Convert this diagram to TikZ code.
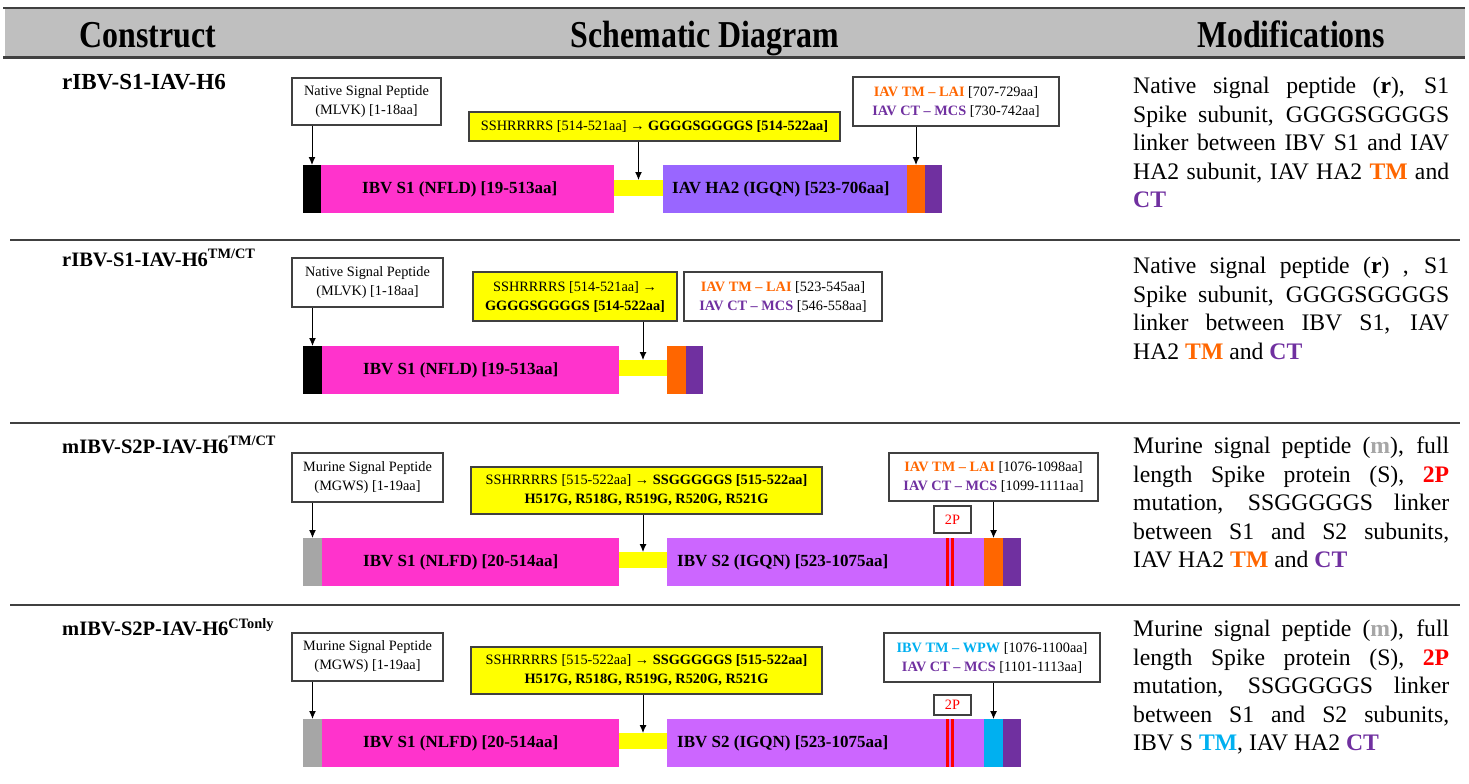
\documentclass[tikz,border=0pt]{standalone}
\usepackage{fontspec}
\setmainfont{Liberation Serif}
\usepackage{graphicx}
\usetikzlibrary{arrows.meta}

\definecolor{s1pink}{HTML}{FF33CC}
\definecolor{ha2purple}{HTML}{9966FF}
\definecolor{s2purple}{HTML}{CC66FF}
\definecolor{tmorange}{HTML}{FF6600}
\definecolor{ctpurple}{HTML}{7030A0}
\definecolor{tmcyan}{HTML}{00B0F0}
\definecolor{sigray}{HTML}{A6A6A6}
\definecolor{hdrgray}{HTML}{BFBFBF}
\definecolor{linegray}{HTML}{404040}
\definecolor{linkyellow}{HTML}{FFFF00}

\newcommand{\hd}[1]{\scalebox{0.84}[1]{#1}}
\newcommand{\tmo}[1]{{\color{tmorange}\textbf{#1}}}
\newcommand{\ctp}[1]{{\color{ctpurple}\textbf{#1}}}

\begin{document}
\begin{tikzpicture}[x=1pt,y=-1pt]
    \tikzstyle{seg}=[inner sep=0,outer sep=0,anchor=north west,minimum height=48pt]
    \tikzstyle{lnk}=[seg,fill=linkyellow,minimum height=16pt]
    \tikzstyle{box}=[draw=linegray,line width=1.2pt,fill=white,inner sep=0,align=center,font=\fontsize{14.3}{19}\selectfont]
    \tikzstyle{ybox}=[box,fill=linkyellow]
    \tikzstyle{barlab}=[anchor=west,inner sep=0,font=\bfseries\fontsize{17}{17}\selectfont]
    \tikzstyle{cname}=[anchor=west,inner sep=0,font=\bfseries\fontsize{23}{25}\selectfont]
    \tikzstyle{cnamesup}=[cname,font=\bfseries\fontsize{20.5}{23}\selectfont]
    \tikzstyle{mods}=[anchor=north west,inner sep=0,text width=316pt,align=justify,font=\fontsize{23.7}{28.5}\selectfont]
    \tikzstyle{hdr}=[inner sep=0,anchor=base,font=\bfseries\fontsize{38}{40}\selectfont]
    \tikzstyle{arr}=[-{Latex[length=8pt,width=7pt]},line width=1pt]
    \tikzstyle{rule}=[draw=linegray,line width=2pt]
    \tikzstyle{twop}=[draw=red,line width=2.5pt]
    \useasboundingbox (0,0) rectangle (1469,784);

    % header
    \fill[hdrgray] (5,8) rectangle (1465,58);
    \draw[rule,line width=2.5pt] (3,8) -- (1465,8);
    \draw[rule,line width=3pt] (3,58) -- (1465,58);
    \node[hdr] (hconstr) at (148,48) {\hd{Construct}};
    \node[hdr] (hschem) at (705,48) {\hd{Schematic Diagram}};
    \node[hdr] (hmods) at (1291,48) {\hd{Modifications}};
    \draw[rule] (10,240) -- (1460,240);
    \draw[rule] (10,423) -- (1460,423);
    \draw[rule] (10,605) -- (1460,605);

    % row 1
    \node[cname] (name1) at (62,82) {rIBV-S1-IAV-H6};
    \node[seg,fill=black,minimum width=18pt] (blk1) at (303,165) {};
    \node[seg,fill=s1pink,minimum width=293pt] (s1a1) at (321,165) {};
    \node[lnk,minimum width=49pt] (lnk1) at (614,180) {};
    \node[seg,fill=ha2purple,minimum width=244pt] (ha2a1) at (663,165) {};
    \node[seg,fill=tmorange,minimum width=18pt] (tm1) at (907,165) {};
    \node[seg,fill=ctpurple,minimum width=17pt] (ct1) at (925,165) {};
    \node[barlab] (s1lab1) at ([xshift=41pt]s1a1.west) {IBV S1 (NFLD) [19-513aa]};
    \node[barlab] (ha2lab1) at ([xshift=9pt]ha2a1.west) {IAV HA2 (IGQN) [523-706aa]};
    \node[box,minimum width=149pt,minimum height=47pt] (sig1) at (366.5,101.5) {Native Signal Peptide\\(MLVK) [1-18aa]};
    \node[ybox,minimum width=371pt,minimum height=29pt] (yel1) at (654.5,126.5) {SSHRRRRS [514-521aa] → \textbf{GGGGSGGGGS [514-522aa]}};
    \node[box,minimum width=206pt,minimum height=49pt] (tmb1) at (956,101.5) {\tmo{IAV TM – LAI} [707-729aa]\\\ctp{IAV CT – MCS} [730-742aa]};
    \draw[arr] (blk1.north |- sig1.south) -- (blk1.north);
    \draw[arr] (lnk1.north |- yel1.south) -- (lnk1.north);
    \draw[arr] (tm1.north |- tmb1.south) -- (tm1.north);
    \node[mods] (mod1) at (1133,77) {Native signal peptide (\textbf{r}), S1\linebreak Spike subunit, GGGGSGGGGS\linebreak linker between IBV S1 and IAV\linebreak HA2 subunit, IAV HA2 \tmo{TM} and\linebreak \ctp{CT}};

    % row 2
    \node[cnamesup] (name2) at (62,258) {rIBV-S1-IAV-H6\textsuperscript{TM/CT}};
    \node[seg,fill=black,minimum width=19pt] (blk2) at (303,346) {};
    \node[seg,fill=s1pink,minimum width=297pt] (s1a2) at (322,346) {};
    \node[lnk,minimum width=48pt] (lnk2) at (619,360) {};
    \node[seg,fill=tmorange,minimum width=19pt] (tm2) at (667,346) {};
    \node[seg,fill=ctpurple,minimum width=17pt] (ct2) at (686,346) {};
    \node[barlab] (s1lab2) at ([xshift=41pt]s1a2.west) {IBV S1 (NFLD) [19-513aa]};
    \node[box,minimum width=151pt,minimum height=49pt] (sig2) at (367.5,282.5) {Native Signal Peptide\\(MLVK) [1-18aa]};
    \node[ybox,minimum width=204pt,minimum height=49pt] (yel2) at (575,296.5) {SSHRRRRS [514-521aa] →\\\textbf{GGGGSGGGGS [514-522aa]}};
    \node[box,minimum width=198pt,minimum height=49pt] (tmb2) at (783,296.5) {\tmo{IAV TM – LAI} [523-545aa]\\\ctp{IAV CT – MCS} [546-558aa]};
    \draw[arr] (blk2.north |- sig2.south) -- (blk2.north);
    \draw[arr] (lnk2.north |- yel2.south) -- (lnk2.north);
    \node[mods] (mod2) at (1133,257) {Native signal peptide (\textbf{r}) , S1\linebreak Spike subunit, GGGGSGGGGS\linebreak linker between IBV S1, IAV\linebreak HA2 \tmo{TM} and \ctp{CT}};

    % row 3
    \node[cnamesup] (name3) at (62,445) {mIBV-S2P-IAV-H6\textsuperscript{TM/CT}};
    \node[seg,fill=sigray,minimum width=19pt] (gry3) at (303,538) {};
    \node[seg,fill=s1pink,minimum width=297pt] (s1a3) at (322,538) {};
    \node[lnk,minimum width=48pt] (lnk3) at (619,552) {};
    \node[seg,fill=s2purple,minimum width=317pt] (s2c3) at (667,538) {};
    \node[seg,fill=tmorange,minimum width=19pt] (tm3) at (984,538) {};
    \node[seg,fill=ctpurple,minimum width=18pt] (ct3) at (1003,538) {};
    \draw[twop] (947.5,538) -- (947.5,586);
    \draw[twop] (952.5,538) -- (952.5,586);
    \node[barlab] (s1lab3) at ([xshift=41pt]s1a3.west) {IBV S1 (NLFD) [20-514aa]};
    \node[barlab] (s2lab3) at ([xshift=10pt]s2c3.west) {IBV S2 (IGQN) [523-1075aa]};
    \node[box,minimum width=151pt,minimum height=49pt] (sig3) at (367.5,477.5) {Murine Signal Peptide\\(MGWS) [1-19aa]};
    \node[ybox,minimum width=351pt,minimum height=47pt] (yel3) at (646.5,490.5) {SSHRRRRS [515-522aa] → \textbf{SSGGGGGS [515-522aa]}\\\textbf{H517G, R518G, R519G, R520G, R521G}};
    \node[box,minimum width=209pt,minimum height=48pt] (tmb3) at (993.5,477) {\tmo{IAV TM – LAI} [1076-1098aa]\\\ctp{IAV CT – MCS} [1099-1111aa]};
    \node[box,text=red,minimum width=37pt,minimum height=27pt] (p2b3) at (952.5,519.5) {2P};
    \draw[arr] (gry3.north |- sig3.south) -- (gry3.north);
    \draw[arr] (lnk3.north |- yel3.south) -- (lnk3.north);
    \draw[arr] (tm3.north |- tmb3.south) -- (tm3.north);
    \node[mods] (mod3) at (1133,437) {Murine signal peptide ({\color{sigray}\textbf{m}}), full\linebreak length Spike protein (S), {\color{red}\textbf{2P}}\linebreak mutation, SSGGGGGS linker\linebreak between S1 and S2 subunits,\linebreak IAV HA2 \tmo{TM} and \ctp{CT}};

    % row 4
    \node[cnamesup] (name4) at (62,627) {mIBV-S2P-IAV-H6\textsuperscript{CTonly}};
    \node[seg,fill=sigray,minimum width=19pt] (gry4) at (303,719) {};
    \node[seg,fill=s1pink,minimum width=297pt] (s1a4) at (322,719) {};
    \node[lnk,minimum width=48pt] (lnk4) at (619,733) {};
    \node[seg,fill=s2purple,minimum width=317pt] (s2c4) at (667,719) {};
    \node[seg,fill=tmcyan,minimum width=19pt] (tm4) at (984,719) {};
    \node[seg,fill=ctpurple,minimum width=18pt] (ct4) at (1003,719) {};
    \draw[twop] (947.5,719) -- (947.5,767);
    \draw[twop] (952.5,719) -- (952.5,767);
    \node[barlab] (s1lab4) at ([xshift=41pt]s1a4.west) {IBV S1 (NLFD) [20-514aa]};
    \node[barlab] (s2lab4) at ([xshift=10pt]s2c4.west) {IBV S2 (IGQN) [523-1075aa]};
    \node[box,minimum width=151pt,minimum height=48pt] (sig4) at (367.5,657) {Murine Signal Peptide\\(MGWS) [1-19aa]};
    \node[ybox,minimum width=351pt,minimum height=47pt] (yel4) at (646.5,670.5) {SSHRRRRS [515-522aa] → \textbf{SSGGGGGS [515-522aa]}\\\textbf{H517G, R518G, R519G, R520G, R521G}};
    \node[box,minimum width=216pt,minimum height=49pt] (tmb4) at (992,657.5) {{\color{tmcyan}\textbf{IBV TM – WPW}} [1076-1100aa]\\\ctp{IAV CT – MCS} [1101-1113aa]};
    \node[box,text=red,minimum width=37pt,minimum height=20pt] (p2b4) at (952.5,705) {2P};
    \draw[arr] (gry4.north |- sig4.south) -- (gry4.north);
    \draw[arr] (lnk4.north |- yel4.south) -- (lnk4.north);
    \draw[arr] (tm4.north |- tmb4.south) -- (tm4.north);
    \node[mods] (mod4) at (1133,620) {Murine signal peptide ({\color{sigray}\textbf{m}}), full\linebreak length Spike protein (S), {\color{red}\textbf{2P}}\linebreak mutation, SSGGGGGS linker\linebreak between S1 and S2 subunits,\linebreak IBV S {\color{tmcyan}\textbf{TM}}, IAV HA2 \ctp{CT}};
\end{tikzpicture}
\end{document}
